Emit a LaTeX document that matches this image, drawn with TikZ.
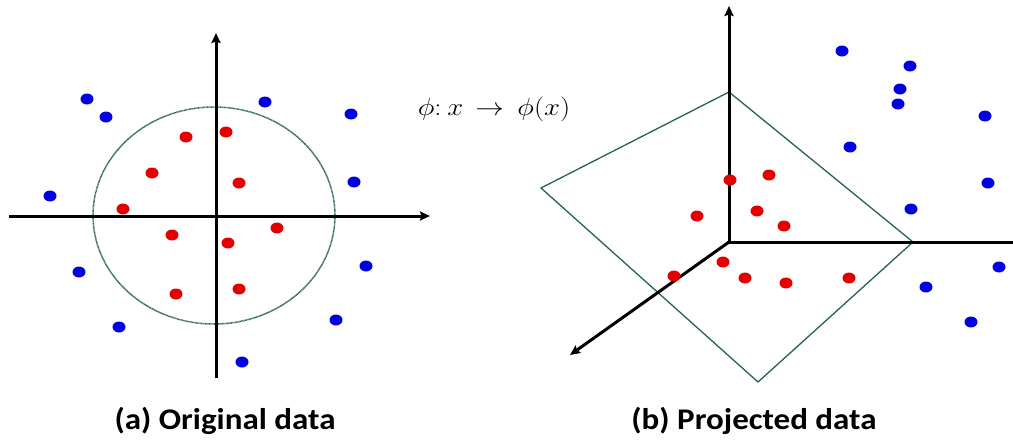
\documentclass[tikz,border=0pt]{standalone}
\usepackage{fontspec}
\setsansfont{Carlito}
\usetikzlibrary{arrows.meta}
\definecolor{dotblue}{RGB}{0,0,225}
\definecolor{dotred}{RGB}{228,0,0}
\definecolor{planegreen}{RGB}{40,100,75}
\begin{document}
\begin{tikzpicture}[x=1pt,y=-1pt,
  axis/.style={line width=3pt,-{Stealth[length=10pt,width=9pt,inset=1.5pt]}},
  bdot/.style={fill=dotblue},
  rdot/.style={fill=dotred},
  plane/.style={draw=planegreen,line width=1.3pt,line join=miter},
  boundary/.style={draw=planegreen,line width=1.5pt,dash pattern=on 0.8pt off 0.5pt},
  caption/.style={font=\sffamily\bfseries\fontsize{30}{34}\selectfont,inner sep=0pt,xscale=1.1}]
\useasboundingbox[fill=white] (0,0) rectangle (1013,440);

% ---------- (a) original data ----------
\coordinate (oa) at (216,216);
\coordinate (ax1) at (9,216);
\coordinate (ax2) at (430,216);
\coordinate (ay1) at (216,378);
\coordinate (ay2) at (216,33);
\draw[boundary] (214,215.5) ellipse (121 and 108.5);
\draw[axis] (ax1) -- (ax2);
\draw[axis] (ay1) -- (ay2);

\foreach \x/\y in {87/99,106/117,265/102,351/114,50/196,354/182,79/272,366/266,119/327,336/320,242/362}
  \fill[bdot] (\x,\y) ellipse (6.5 and 5.5);
\foreach \x/\y in {186/137,226/132,152/173,239/183,123/209,172/235,228/243,277/228,176/294,239/289}
  \fill[rdot] (\x,\y) ellipse (6.5 and 5.5);

% ---------- mapping ----------
\node[inner sep=0pt,xscale=1.15,font=\fontsize{26}{30}\selectfont] (map) at (494,109)
  {$\phi{:}\hspace{0.2em}x\hspace{0.4em}{\rightarrow}\hspace{0.45em}\phi(x)$};

% ---------- (b) projected data ----------
\coordinate (ob) at (729,242);
\coordinate (pt) at (729,92);
\coordinate (pl) at (541,188);
\coordinate (pb) at (758,382);
\coordinate (pr) at (913,242);
\draw[plane] (pt) -- (pl) -- (pb) -- (pr) -- cycle;
\coordinate (bz) at (729,6);
\coordinate (bx) at (1013,242);
\coordinate (bd) at (570,355);
\draw[axis] (ob) -- (bz);
\draw[line width=3pt] (ob) -- (bx);
\draw[axis] (ob) -- (bd);

\foreach \x/\y in {842/51,910/66,900/89,898/104,985/116,850/147,988/183,911/209,999/267,926/287,971/322}
  \fill[bdot] (\x,\y) ellipse (6.5 and 5.5);
\foreach \x/\y in {730/180,769/175,697/216,757/211,784/226,723/262,674/276,745/278,786/283,849/278}
  \fill[rdot] (\x,\y) ellipse (6.5 and 5.5);

% ---------- captions ----------
\node[caption] (capa) at (225,421) {(a) Original data};
\node[caption] (capb) at (754,421) {(b) Projected data};
\end{tikzpicture}
\end{document}
